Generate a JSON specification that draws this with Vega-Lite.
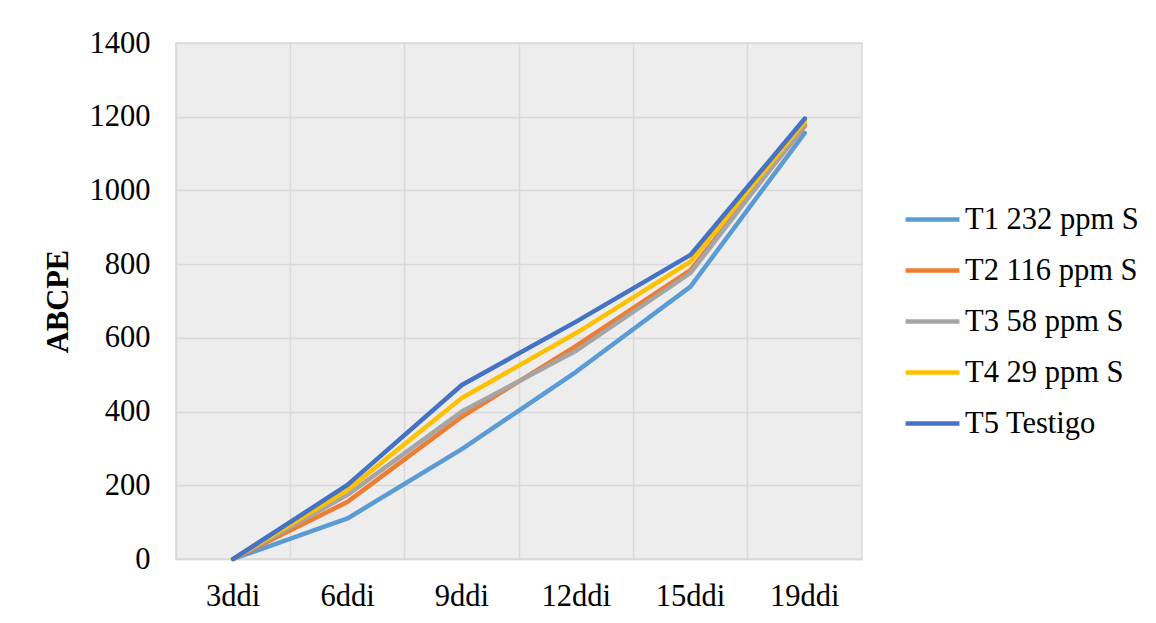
{
  "$schema": "https://vega.github.io/schema/vega-lite/v6.json",
  "autosize": "none",
  "width": 686,
  "height": 516,
  "padding": {"left": 176, "top": 43, "right": 294, "bottom": 64},
  "background": "white",
  "config": {
    "font": "Liberation Serif, Times New Roman, serif",
    "view": {"fill": "#ededed", "stroke": "#d9d9d9", "strokeWidth": 1.5}
  },
  "data": {
    "values": [
      {"ddi": "3ddi", "trat": "T1 232 ppm S", "abcpe": 0},
      {"ddi": "6ddi", "trat": "T1 232 ppm S", "abcpe": 110},
      {"ddi": "9ddi", "trat": "T1 232 ppm S", "abcpe": 298},
      {"ddi": "12ddi", "trat": "T1 232 ppm S", "abcpe": 508},
      {"ddi": "15ddi", "trat": "T1 232 ppm S", "abcpe": 739},
      {"ddi": "19ddi", "trat": "T1 232 ppm S", "abcpe": 1156},
      {"ddi": "3ddi", "trat": "T2 116 ppm S", "abcpe": 0},
      {"ddi": "6ddi", "trat": "T2 116 ppm S", "abcpe": 155},
      {"ddi": "9ddi", "trat": "T2 116 ppm S", "abcpe": 386},
      {"ddi": "12ddi", "trat": "T2 116 ppm S", "abcpe": 578},
      {"ddi": "15ddi", "trat": "T2 116 ppm S", "abcpe": 784},
      {"ddi": "19ddi", "trat": "T2 116 ppm S", "abcpe": 1175},
      {"ddi": "3ddi", "trat": "T3 58 ppm S", "abcpe": 0},
      {"ddi": "6ddi", "trat": "T3 58 ppm S", "abcpe": 174},
      {"ddi": "9ddi", "trat": "T3 58 ppm S", "abcpe": 400},
      {"ddi": "12ddi", "trat": "T3 58 ppm S", "abcpe": 565},
      {"ddi": "15ddi", "trat": "T3 58 ppm S", "abcpe": 776},
      {"ddi": "19ddi", "trat": "T3 58 ppm S", "abcpe": 1180},
      {"ddi": "3ddi", "trat": "T4 29 ppm S", "abcpe": 0},
      {"ddi": "6ddi", "trat": "T4 29 ppm S", "abcpe": 187},
      {"ddi": "9ddi", "trat": "T4 29 ppm S", "abcpe": 437},
      {"ddi": "12ddi", "trat": "T4 29 ppm S", "abcpe": 613},
      {"ddi": "15ddi", "trat": "T4 29 ppm S", "abcpe": 807},
      {"ddi": "19ddi", "trat": "T4 29 ppm S", "abcpe": 1188},
      {"ddi": "3ddi", "trat": "T5 Testigo", "abcpe": 0},
      {"ddi": "6ddi", "trat": "T5 Testigo", "abcpe": 201},
      {"ddi": "9ddi", "trat": "T5 Testigo", "abcpe": 472},
      {"ddi": "12ddi", "trat": "T5 Testigo", "abcpe": 644},
      {"ddi": "15ddi", "trat": "T5 Testigo", "abcpe": 825},
      {"ddi": "19ddi", "trat": "T5 Testigo", "abcpe": 1195}
    ]
  },
  "mark": {"type": "line", "strokeWidth": 4.5, "strokeCap": "round", "strokeJoin": "round"},
  "encoding": {
    "x": {
      "field": "ddi",
      "type": "ordinal",
      "sort": ["3ddi", "6ddi", "9ddi", "12ddi", "15ddi", "19ddi"],
      "scale": {"type": "band", "paddingInner": 0, "paddingOuter": 0},
      "axis": {
        "title": null,
        "labelAngle": 0,
        "labelFont": "Liberation Serif, Times New Roman, serif",
        "labelFontSize": 30.5,
        "labelColor": "black",
        "labelPadding": 22,
        "ticks": false,
        "grid": true,
        "bandPosition": 0,
        "gridColor": "#d9d9d9",
        "gridWidth": 1.5,
        "domainColor": "#d9d9d9",
        "domainWidth": 1.5
      }
    },
    "y": {
      "field": "abcpe",
      "type": "quantitative",
      "scale": {"domain": [0, 1400], "nice": false},
      "axis": {
        "title": "ABCPE",
        "titleFont": "Liberation Serif, Times New Roman, serif",
        "titleFontSize": 30.5,
        "titleFontWeight": "bold",
        "titleColor": "black",
        "titlePadding": 16,
        "values": [0, 200, 400, 600, 800, 1000, 1200, 1400],
        "format": "d",
        "labelFont": "Liberation Serif, Times New Roman, serif",
        "labelFontSize": 30.5,
        "labelColor": "black",
        "labelPadding": 26,
        "ticks": false,
        "domain": false,
        "gridColor": "#d9d9d9",
        "gridWidth": 1.5
      }
    },
    "color": {
      "field": "trat",
      "type": "nominal",
      "scale": {
        "domain": ["T1 232 ppm S", "T2 116 ppm S", "T3 58 ppm S", "T4 29 ppm S", "T5 Testigo"],
        "range": ["#5B9BD5", "#ED7D31", "#A5A5A5", "#FFC000", "#4472C4"]
      },
      "legend": {
        "title": null,
        "orient": "none",
        "legendX": 727,
        "legendY": 147,
        "symbolType": "stroke",
        "symbolSize": 2900,
        "symbolStrokeWidth": 4.5,
        "labelFont": "Liberation Serif, Times New Roman, serif",
        "labelFontSize": 30.5,
        "labelColor": "black",
        "labelLimit": 400,
        "labelOffset": 3,
        "rowPadding": 6
      }
    }
  }
}
